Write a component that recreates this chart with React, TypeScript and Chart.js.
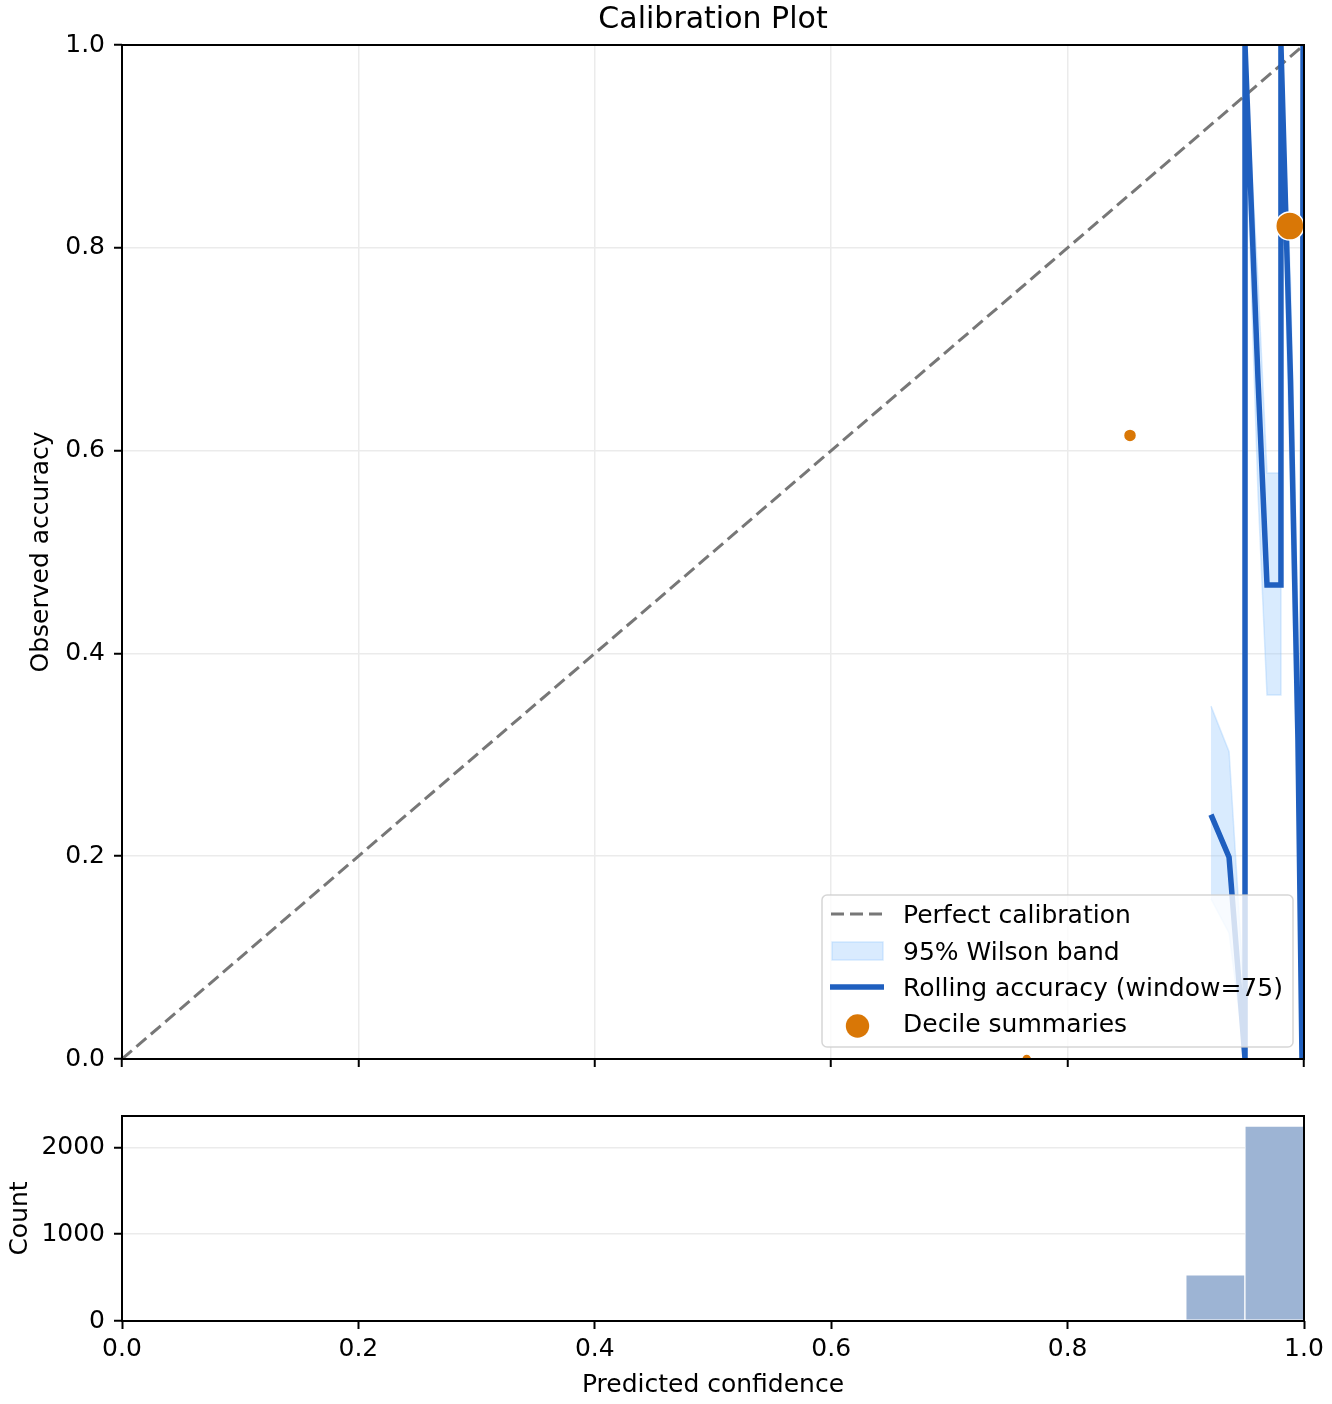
import { useRef, useEffect } from 'react';
import Chart from 'chart.js/auto';

// rolling accuracy (window=75)
const rollingX = [0.9213, 0.9366, 0.9501, 0.9501, 0.9611, 0.9687, 0.9805, 0.9805, 0.9886, 0.9949, 0.9983, 0.9992];
const rollingAcc = [0.241, 0.199, 0.0, 1.0, 0.67, 0.4675, 0.4675, 1.0, 0.67, 0.315, 0.0, 1.0];
const wilsonLo = [0.158, 0.124, 0.0, 0.951, 0.558, 0.359, 0.359, 0.951, 0.558, 0.221, 0.0, 0.951];
const wilsonHi = [0.348, 0.303, 0.049, 1.0, 0.766, 0.578, 0.578, 1.0, 0.766, 0.427, 0.049, 1.0];

// decile summaries
const decileConf = [0.7654, 0.8528, 0.988];
const decileAcc = [0.0, 0.615, 0.8215];
const decileCounts = [280, 470, 2200];

// perfect calibration
const diagX = [0, 1];

// histogram of predicted confidence (bin width 0.05)
const histCenters = [0.025, 0.075, 0.125, 0.175, 0.225, 0.275, 0.325, 0.375, 0.425, 0.475,
    0.525, 0.575, 0.625, 0.675, 0.725, 0.775, 0.825, 0.875, 0.925, 0.975];
const histCounts = [0, 0, 0, 0, 0, 0, 0, 0, 0, 0, 0, 0, 0, 0, 0, 0, 0, 0, 532, 2243];
const countMax = 2360;

const probTicks = [0, 0.2, 0.4, 0.6, 0.8, 1.0];
const countTicks = [0, 1000, 2000];

const chartTitle = 'Calibration Plot';
const legendLabels = ['Perfect calibration', '95% Wilson band', 'Rolling accuracy (window=75)', 'Decile summaries'];

const FONT = "'DejaVu Sans', 'Liberation Sans', sans-serif";
const FS = 25;
const LINE_BLUE = '#1f5fbf';
const BAND = 'rgba(147,197,253,0.35)';
const ORANGE = '#d97706';
const BAR = '#9db4d4';
const GRID = '#ebebeb';

Chart.defaults.font.family = FONT;
Chart.defaults.color = '#000';

// box round the plot area, like the axes spines
const framePlugin = {
    id: 'frame',
    afterDatasetsDraw(chart: any) {
        const { ctx, chartArea } = chart;
        ctx.save();
        ctx.strokeStyle = '#000';
        ctx.lineWidth = 2;
        ctx.strokeRect(chartArea.left, chartArea.top, chartArea.right - chartArea.left, chartArea.bottom - chartArea.top);
        ctx.restore();
    }
};

// title centred over the plot area rather than the canvas
const axesTitlePlugin = {
    id: 'axesTitle',
    afterDraw(chart: any) {
        const { ctx, chartArea } = chart;
        ctx.save();
        ctx.font = `30px ${FONT}`;
        ctx.fillStyle = '#000';
        ctx.textAlign = 'center';
        ctx.textBaseline = 'middle';
        ctx.fillText(chartTitle, (chartArea.left + chartArea.right) / 2, 20.5);
        ctx.restore();
    }
};

const setTicks = (vals: number[]) => (scale: any) => {
    scale.ticks = vals.map((v) => ({ value: v }));
};

function mainConfig(): any {
    const band = [
        ...rollingX.map((x, i) => ({ x, y: wilsonHi[i] })),
        ...rollingX.map((x, i) => ({ x, y: wilsonLo[i] })).reverse(),
    ];
    return {
        type: 'scatter',
        data: {
            datasets: [
                {
                    label: legendLabels[3],
                    data: decileConf.map((x, i) => ({ x, y: decileAcc[i] })),
                    pointRadius: decileCounts.map((n) => 0.3 * Math.sqrt(n)),
                    pointBackgroundColor: ORANGE,
                    pointBorderColor: '#fff',
                    pointBorderWidth: 1.5,
                    clip: 0,
                    order: 1,
                },
                {
                    label: legendLabels[2],
                    data: rollingX.map((x, i) => ({ x, y: rollingAcc[i] })),
                    showLine: true,
                    borderColor: LINE_BLUE,
                    borderWidth: 5.5,
                    pointRadius: 0,
                    clip: 0,
                    order: 2,
                },
                {
                    label: legendLabels[0],
                    data: diagX.map((x) => ({ x, y: x })),
                    showLine: true,
                    borderColor: '#777777',
                    borderWidth: 3,
                    borderDash: [13, 6],
                    pointRadius: 0,
                    clip: 0,
                    order: 3,
                },
                {
                    label: legendLabels[1],
                    data: band,
                    showLine: true,
                    fill: 'shape',
                    backgroundColor: BAND,
                    borderColor: BAND,
                    borderWidth: 1.5,
                    pointRadius: 0,
                    clip: 0,
                    order: 4,
                },
            ],
        },
        options: {
            responsive: false,
            animation: false,
            events: [],
            layout: { padding: { left: 0, right: 28, top: 45, bottom: 0 } },
            plugins: {
                legend: { display: false },
                tooltip: { enabled: false },
                title: { display: false },
            },
            scales: {
                x: {
                    type: 'linear',
                    min: 0,
                    max: 1,
                    afterBuildTicks: setTicks(probTicks),
                    ticks: { display: false },
                    grid: { color: GRID, lineWidth: 1.5, tickColor: '#000', tickLength: 8, tickWidth: 2 },
                    border: { display: false },
                    afterFit: (s: any) => { s.height = 24; },
                },
                y: {
                    type: 'linear',
                    min: 0,
                    max: 1,
                    afterBuildTicks: setTicks(probTicks),
                    ticks: {
                        font: { size: FS },
                        color: '#000',
                        padding: 9,
                        callback: (v: any) => Number(v).toFixed(1),
                    },
                    grid: { color: GRID, lineWidth: 1.5, tickColor: '#000', tickLength: 8, tickWidth: 2 },
                    border: { display: false },
                    title: {
                        display: true,
                        text: 'Observed accuracy',
                        color: '#000',
                        font: { size: FS },
                        padding: { top: 26, bottom: 0 },
                    },
                    afterFit: (s: any) => { s.width = 122; },
                },
            },
        },
        plugins: [framePlugin, axesTitlePlugin],
    };
}

function histConfig(): any {
    return {
        type: 'bar',
        data: {
            datasets: [
                {
                    label: 'Count',
                    data: histCenters.map((x, i) => ({ x, y: histCounts[i] })),
                    backgroundColor: BAR,
                    borderColor: '#fff',
                    borderWidth: 1,
                    borderSkipped: false,
                    barPercentage: 1,
                    categoryPercentage: 1,
                },
            ],
        },
        options: {
            responsive: false,
            animation: false,
            events: [],
            layout: { padding: { left: 0, right: 28, top: 36, bottom: 0 } },
            plugins: {
                legend: { display: false },
                tooltip: { enabled: false },
            },
            scales: {
                x: {
                    type: 'linear',
                    min: 0,
                    max: 1,
                    offset: false,
                    afterBuildTicks: setTicks(probTicks),
                    ticks: {
                        font: { size: FS },
                        color: '#000',
                        padding: 5,
                        maxRotation: 0,
                        callback: (v: any) => Number(v).toFixed(1),
                    },
                    grid: { offset: false, drawOnChartArea: false, tickColor: '#000', tickLength: 8, tickWidth: 2 },
                    border: { display: false },
                    title: {
                        display: true,
                        text: 'Predicted confidence',
                        color: '#000',
                        font: { size: FS },
                        padding: { top: 0, bottom: 4 },
                    },
                    afterFit: (s: any) => { s.height = 83; },
                },
                y: {
                    type: 'linear',
                    min: 0,
                    max: countMax,
                    afterBuildTicks: setTicks(countTicks),
                    ticks: {
                        font: { size: FS },
                        color: '#000',
                        padding: 9,
                        callback: (v: any) => String(v),
                    },
                    grid: { color: GRID, lineWidth: 1.5, tickColor: '#000', tickLength: 8, tickWidth: 2 },
                    border: { display: false },
                    title: {
                        display: true,
                        text: 'Count',
                        color: '#000',
                        font: { size: FS },
                        padding: { top: 5, bottom: 0 },
                    },
                    afterFit: (s: any) => { s.width = 122; },
                },
            },
        },
        plugins: [framePlugin],
    };
}

function Legend() {
    const tx = 903;
    const base = [923, 959.5, 996, 1032];
    return (
        <svg width={1332} height={1404} style={{ position: 'absolute', left: 0, top: 0, pointerEvents: 'none' }}>
            <rect x={822} y={895} width={471} height={152} rx={5} ry={5}
                fill="rgba(255,255,255,0.8)" stroke="rgba(204,204,204,0.8)" strokeWidth={1.5} />
            <line x1={831} y1={914} x2={883} y2={914} stroke="#777777" strokeWidth={3} strokeDasharray="13 6" />
            <rect x={832} y={942} width={51} height={18} fill={BAND} stroke={BAND} strokeWidth={1.5} />
            <line x1={830} y1={987} x2={884} y2={987} stroke={LINE_BLUE} strokeWidth={5.5} />
            <circle cx={857.5} cy={1026} r={11.7} fill={ORANGE} />
            {legendLabels.map((t, i) => (
                <text key={t} x={tx} y={base[i]} fontFamily={FONT} fontSize={FS} fill="#000">{t}</text>
            ))}
        </svg>
    );
}

export default function App() {
    const mainRef = useRef<HTMLCanvasElement>(null);
    const histRef = useRef<HTMLCanvasElement>(null);

    useEffect(() => {
        if (!mainRef.current || !histRef.current) return;
        const main = new Chart(mainRef.current, mainConfig());
        const hist = new Chart(histRef.current, histConfig());
        return () => {
            main.destroy();
            hist.destroy();
        };
    }, []);

    return (
        <div style={{ position: 'absolute', left: 0, top: 0, width: 1332, height: 1404, background: '#fff' }}>
            <canvas ref={mainRef} width={1332} height={1083}
                style={{ position: 'absolute', left: 0, top: 0, width: 1332, height: 1083 }} />
            <canvas ref={histRef} width={1332} height={324}
                style={{ position: 'absolute', left: 0, top: 1080, width: 1332, height: 324 }} />
            <Legend />
        </div>
    );
}
